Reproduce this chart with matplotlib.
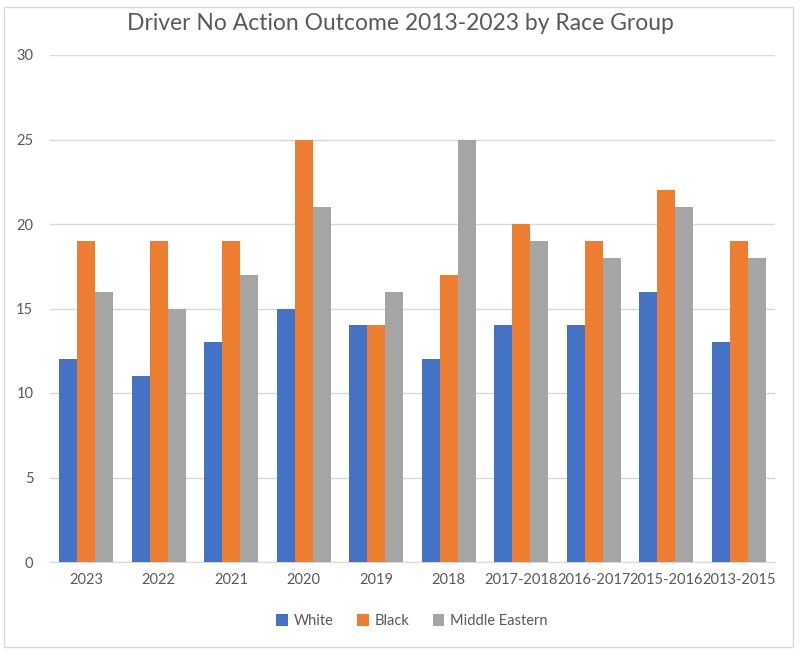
import matplotlib
matplotlib.use("Agg")
import matplotlib.pyplot as plt
import numpy as np
from matplotlib.patches import Rectangle

categories = ["2023", "2022", "2021", "2020", "2019", "2018",
              "2017-2018", "2016-2017", "2015-2016", "2013-2015"]
white = [12, 11, 13, 15, 14, 12, 14, 14, 16, 13]
black = [19, 19, 19, 25, 14, 17, 20, 19, 22, 19]
middle_eastern = [16, 15, 17, 21, 16, 25, 19, 18, 21, 18]
series_names = ["White", "Black", "Middle Eastern"]
colors = ["#4472C4", "#ED7D31", "#A5A5A5"]

plt.rcParams['font.family'] = ['Lato', 'DejaVu Sans']

fig = plt.figure(figsize=(8, 6.58), dpi=100)
fig.patches.append(Rectangle((4/800, 1-647/658), 789/800, 640/658,
                             transform=fig.transFigure, fill=False,
                             edgecolor="#D9D9D9", linewidth=1))
ax = fig.add_axes([50/800, 1-562/658, 725/800, 507/658])

x = np.arange(len(categories))
w = 0.25
for i, (vals, name, c) in enumerate(zip([white, black, middle_eastern], series_names, colors)):
    ax.bar(x + (i - 1) * w, vals, width=w, color=c, label=name, zorder=3)

ax.set_xlim(-0.5, len(categories) - 0.5)
ax.set_ylim(0, 30)
ax.set_yticks(range(0, 31, 5))
ax.grid(axis="y", color="#D9D9D9", linewidth=1, zorder=0)
for s in ["top", "right", "left"]:
    ax.spines[s].set_visible(False)
ax.spines["bottom"].set_color("#D9D9D9")
ax.tick_params(axis="both", length=0, colors="#595959", labelsize=10.5)
ax.tick_params(axis="y", pad=12)
ax.tick_params(axis="x", pad=8)
ax.set_xticks(x)
ax.set_xticklabels(categories)

fig.text(0.5, 1-24/658, "Driver No Action Outcome 2013-2023 by Race Group",
         ha="center", va="center", fontsize=16.5, color="#595959")

leg = fig.legend(loc="center", bbox_to_anchor=(0.515, 1-621/658), ncol=3,
                 frameon=False, fontsize=10.5, handlelength=0.8, handleheight=0.8,
                 columnspacing=1.6, handletextpad=0.4)
for t in leg.get_texts():
    t.set_color("#595959")

fig.savefig("out.png", dpi=100)
